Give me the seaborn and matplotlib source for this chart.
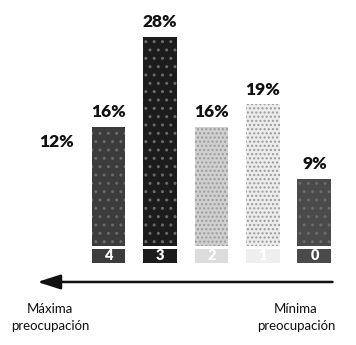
import matplotlib
matplotlib.use("Agg")
import matplotlib.pyplot as plt
import seaborn as sns
import pandas as pd

categories = ["5", "4", "3", "2", "1", "0"]
values = [12, 16, 28, 16, 19, 9]
value_labels = ["12%", "16%", "28%", "16%", "19%", "9%"]
bar_colors = ["#ffffff", "#3c3c3c", "#1c1c1c", "#cfcfcf", "#ececec", "#4a4a4a"]
box_colors = ["#ffffff", "#3c3c3c", "#1c1c1c", "#dcdcdc", "#efefef", "#4a4a4a"]
left_label = "Máxima\npreocupación"
right_label = "Mínima\npreocupación"

sns.set_style("white")
plt.rcParams["font.family"] = ["Lato", "DejaVu Sans"]

fig = plt.figure(figsize=(3.56, 3.45), dpi=100)
ax = fig.add_axes([0, 0, 1, 1])

df = pd.DataFrame({"cat": categories, "val": values})
sns.barplot(data=df, x="cat", y="val", hue="cat", palette=bar_colors,
            width=0.66, legend=False, ax=ax, linewidth=0, saturation=1)

# stipple texture
for i, p in enumerate(ax.patches):
    if i in (3, 4):
        p.set_hatch("....")
        p.set_edgecolor("#9a9a9a")
        p.set_linewidth(0)
    elif i in (1, 2, 5):
        p.set_hatch("..")
        p.set_edgecolor("#6a6a6a")
        p.set_linewidth(0)

# value labels
for i, (v, lab) in enumerate(zip(values, value_labels)):
    ax.text(i, v + 2.0, lab, ha="center", va="center", fontsize=12.5,
            fontweight="heavy", color="#111111")

# category boxes under bars
ax.bar(range(len(categories)), [-1.95] * len(categories), bottom=-0.35,
       width=0.66, color=box_colors, linewidth=0)
for i, c in enumerate(categories):
    ax.text(i, -1.33, c, ha="center", va="center", fontsize=10.5,
            fontweight="heavy", color="white")

# arrow
ax.annotate("", xy=(-0.38, -4.83), xytext=(5.35, -4.83),
            arrowprops=dict(arrowstyle="-|>,head_length=1.4,head_width=0.45",
                            color="#111111", lw=1.8, shrinkA=0, shrinkB=0))

ax.text(-0.13, -9.6, left_label, ha="center", va="center", fontsize=9.5,
        color="#111111", linespacing=1.55)
ax.text(4.64, -9.6, right_label, ha="center", va="center", fontsize=9.5,
        color="#111111", linespacing=1.55)

ax.set_xlim(-1.107, 5.806)
ax.set_ylim(-13.29, 33.02)
ax.axis("off")

fig.savefig("out.png", dpi=100)
